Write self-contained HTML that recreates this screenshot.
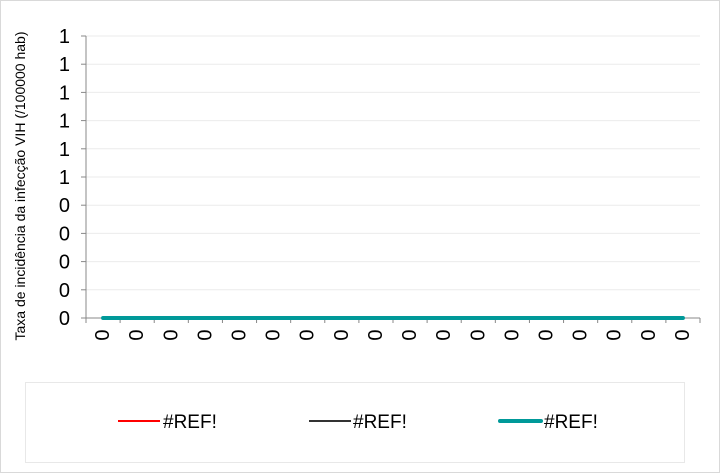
<!DOCTYPE html>
<html><head><meta charset="utf-8"><style>
body{margin:0;background:#fff}
svg{display:block;font-family:"Liberation Sans",Arial,sans-serif}
</style></head><body>
<svg id="chart" width="720" height="473" viewBox="0 0 720 473">
<rect x="0.5" y="0.5" width="719" height="472" fill="#fff" stroke="#d9d9d9"/>
<g id="grid"></g>
<g id="axes"></g>
<g id="series"></g>
<text transform="translate(25,186) rotate(-90)" text-anchor="middle" font-size="14" fill="#000">Taxa de incidência da infecção VIH  (/100000 hab)</text>
<rect x="25.5" y="382.5" width="659" height="80" fill="#fff" stroke="#e8e8e8"/>
<g><line x1="118" y1="421" x2="160" y2="421" stroke="#ff0000" stroke-width="2"/><text x="163" y="428" font-size="19">#REF!</text></g>
<g><line x1="309" y1="421" x2="351" y2="421" stroke="#333" stroke-width="2"/><text x="353" y="428" font-size="19">#REF!</text></g>
<g><line x1="500" y1="421" x2="541" y2="421" stroke="#009999" stroke-width="4" stroke-linecap="round"/><text x="544" y="428" font-size="19">#REF!</text></g>
</svg>
<script>
const categories=["0","0","0","0","0","0","0","0","0","0","0","0","0","0","0","0","0","0"];
const seriesRed=[0,0,0,0,0,0,0,0,0,0,0,0,0,0,0,0,0,0];
const seriesBlack=[0,0,0,0,0,0,0,0,0,0,0,0,0,0,0,0,0,0];
const seriesTeal=[0,0,0,0,0,0,0,0,0,0,0,0,0,0,0,0,0,0];
const yTicks=[0,0.2,0.4,0.6,0.8,1,1.2,1.4,1.6,1.8,2];
const yTickLabels=["0","0","0","0","0","1","1","1","1","1","1"];
const NS="http://www.w3.org/2000/svg";
const L=86,R=700,T=36,B=318,yMax=2;
const x=i=>L+(R-L)/categories.length*(i+0.5);
const y=v=>B-(B-T)*v/yMax;
function mk(tag,a,p){const e=document.createElementNS(NS,tag);for(const k in a)e.setAttribute(k,a[k]);p.appendChild(e);return e;}
const grid=document.getElementById('grid'),axes=document.getElementById('axes'),ser=document.getElementById('series');
yTicks.forEach((t,i)=>{
 if(t>0){const g=mk('line',{x1:L,x2:R,y1:y(t),y2:y(t),stroke:'#ebebeb'},grid);
 
 }
 mk('line',{x1:L-5,x2:L,y1:y(t),y2:y(t),stroke:'#888'},axes);
 const lb=mk('text',{x:70,y:y(t)+7,'text-anchor':'end','font-size':20},axes);
 lb.textContent=yTickLabels[i];
 
 
});
mk('line',{x1:L,x2:L,y1:T,y2:B+5,stroke:'#888'},axes);
mk('line',{x1:L,x2:R,y1:B,y2:B,stroke:'#888'},axes);
for(let i=0;i<=categories.length;i++){const xx=L+(R-L)/categories.length*i;mk('line',{x1:xx,x2:xx,y1:B,y2:B+5,stroke:'#888'},axes);}
categories.forEach((c,i)=>{
 const t=mk('text',{transform:`translate(${x(i)+6},335) rotate(-90)`,'text-anchor':'middle','font-size':20},axes);
 t.textContent=c;
 
 
});
function line(d,col,w,name){
 const p=mk('polyline',{points:d.map((v,i)=>x(i)+','+y(v)).join(' '),fill:'none',stroke:col,'stroke-width':w,'stroke-linecap':'round'},ser);
 
 
}
line(seriesRed,'#ff0000',2,'series-red-line');
line(seriesBlack,'#333',2,'series-black-line');
line(seriesTeal,'#009999',4,'series-teal-line');
</script>
</body></html>
